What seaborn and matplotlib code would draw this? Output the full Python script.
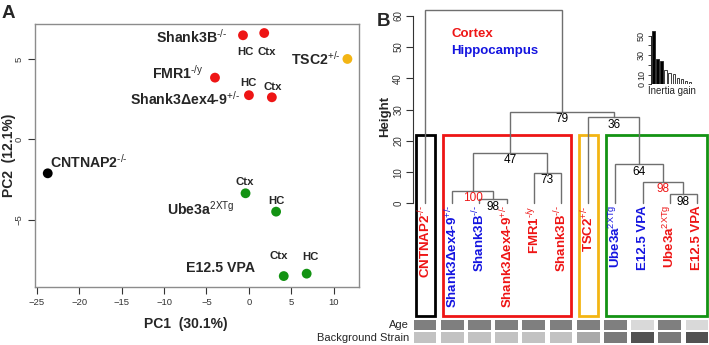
import matplotlib
matplotlib.use("Agg")
import matplotlib.pyplot as plt
from matplotlib.patches import Rectangle
import pandas as pd
import seaborn as sns

# ---- Panel A: PCA scores
pca_group = ["CNTNAP2", "Shank3B", "Shank3B", "FMR1", "Shank3dex", "Shank3dex",
             "TSC2", "Ube3a", "Ube3a", "VPA", "VPA"]
pca_tissue = ["", "HC", "Ctx", "", "HC", "Ctx", "", "Ctx", "HC", "Ctx", "HC"]
pca_cluster = ["c1", "c2", "c2", "c2", "c2", "c2", "c3", "c4", "c4", "c4", "c4"]
pc1 = [-23.7, -0.7, 1.8, -4.0, 0.0, 2.7, 11.6, -0.4, 3.2, 4.1, 6.8]
pc2 = [-2.1, 6.47, 6.61, 3.84, 2.75, 2.62, 5.0, -3.34, -4.48, -8.48, -8.33]

H = "\u2010"  # plain hyphen, kept out of mathtext's minus conversion
group_text = {
    "CNTNAP2": r"CNTNAP2$^{\mathrm{%s/%s}}$" % (H, H),
    "Shank3B": r"Shank3B$^{\mathrm{%s/%s}}$" % (H, H),
    "FMR1": r"FMR1$^{\mathrm{%s/y}}$" % H,
    "Shank3dex": r"Shank3Δex4-9$^{\mathrm{+/%s}}$" % H,
    "TSC2": r"TSC2$^{\mathrm{+/%s}}$" % H,
    "Ube3a": r"Ube3a$^{\mathrm{2XTg}}$",
    "VPA": "E12.5 VPA",
}

# ---- Panel B: hierarchical clustering (leaf order left to right)
leaf_group = ["CNTNAP2", "Shank3dex", "Shank3B", "Shank3dex", "FMR1", "Shank3B",
              "TSC2", "Ube3a", "VPA", "Ube3a", "VPA"]
leaf_tissue = ["Ctx", "HC", "HC", "Ctx", "Ctx", "Ctx", "Ctx", "HC", "HC", "Ctx", "Ctx"]
leaf_cluster = ["c1", "c2", "c2", "c2", "c2", "c2", "c3", "c4", "c4", "c4", "c4"]
# merges: node ids 0-10 are leaves, 11+ are merges in this order
merge_left = [2, 1, 4, 12, 9, 8, 7, 6, 14, 0]
merge_right = [3, 11, 5, 13, 10, 15, 16, 17, 18, 19]
merge_height = [1.3, 4.1, 9.8, 16.2, 2.9, 7.0, 12.5, 27.5, 29.3, 61.8]
merge_support = ["98", "100", "73", "47", "98", "98", "64", "36", "79", ""]
merge_support_red = [False, True, False, False, False, True, False, False, False, False]

age_shade = ["#7f7f7f"] * 8 + ["#d9d9d9", "#7f7f7f", "#d9d9d9"]
strain_shade = ["#c2c2c2"] * 6 + ["#a9a9a9", "#7a7a7a", "#525252", "#7a7a7a", "#525252"]

inertia_gain = [55, 26, 24.3, 14.7, 12, 10.3, 6.8, 5.1, 3.4, 2.4]

cluster_colours = {"c1": "black", "c2": "#ee1515", "c3": "#f3b514", "c4": "#139313"}
tissue_colours = {"Ctx": "#ee1515", "HC": "#1414e0"}

sns.set_style("ticks")
plt.rcParams["font.family"] = ["Liberation Sans", "DejaVu Sans"]
plt.rcParams["mathtext.fontset"] = "custom"
plt.rcParams["mathtext.rm"] = "Liberation Sans"
plt.rcParams["mathtext.bf"] = "Liberation Sans:bold"

fig = plt.figure(figsize=(7.09, 3.45), dpi=100)

# ---------------- Panel A ----------------
axA = fig.add_axes([35 / 709, 1 - 286.7 / 345, 324.3 / 709, 262.7 / 345])
df = pd.DataFrame({"pc1": pc1, "pc2": pc2, "cluster": pca_cluster})
sns.scatterplot(data=df, x="pc1", y="pc2", hue="cluster", palette=cluster_colours,
                s=50, edgecolor="none", legend=False, ax=axA)
axA.set_xlim(-25.2, 13.0)
axA.set_ylim(-9.14, 7.17)
axA.set_xticks(range(-25, 11, 5))
axA.set_yticks([-5, 0, 5])
axA.tick_params(labelsize=6.8, colors="#333333", length=5, width=0.8, pad=3)
for lab in axA.get_yticklabels():
    lab.set_rotation(90)
    lab.set_va("center")
for sp in axA.spines.values():
    sp.set_color("#8c8c8c")
    sp.set_linewidth(1)
axA.set_xlabel("")
axA.set_ylabel("")

# group names (layout positions in data units)
group_pos = [("Shank3B", -2.47, 6.39, "right"), ("TSC2", 10.82, 5.0, "right"),
             ("FMR1", -5.29, 4.15, "right"), ("Shank3dex", -1.06, 2.56, "right"),
             ("CNTNAP2", -23.38, -1.38, "left"), ("Ube3a", -1.73, -4.27, "right"),
             ("VPA", 0.74, -7.96, "right")]
for g, x, y, ha in group_pos:
    axA.text(x, y, group_text[g], ha=ha, va="center", fontsize=10.2, fontweight="bold")
# tissue tags (layout positions in data units)
tissue_pos = [None, (-0.47, 5.45), (2.08, 5.45), None, (0.0, 3.49), (2.79, 3.24),
              None, (-0.44, -2.62), (3.26, -3.82), (3.56, -7.24), (7.29, -7.32)]
for t, p in zip(pca_tissue, tissue_pos):
    if t:
        axA.text(p[0], p[1], t, ha="center", va="center", fontsize=8.2,
                 fontweight="bold")

fig.text(186 / 709, 1 - 324 / 345, "PC1  (30.1%)", ha="center", va="center",
         fontsize=10, fontweight="bold")
fig.text(9 / 709, 1 - 155 / 345, "PC2  (12.1%)", ha="center", va="center",
         fontsize=10, fontweight="bold", rotation=90)
fig.text(8 / 709, 1 - 14 / 345, "A", ha="center", va="center", fontsize=13.5,
         fontweight="bold")
fig.text(383 / 709, 1 - 22 / 345, "B", ha="center", va="center", fontsize=13.5,
         fontweight="bold")

# ---------------- Panel B ----------------
axB = fig.add_axes([413 / 709, 0, 296 / 709, 1])
axB.set_xlim(-0.441, 10.441)
axB.set_ylim(-45.2, 65.0)
for s in ["top", "right", "bottom"]:
    axB.spines[s].set_visible(False)
axB.spines["left"].set_bounds(0, 60)
axB.spines["left"].set_color("#333333")
axB.spines["left"].set_linewidth(0.8)
axB.set_xticks([])
axB.set_yticks(range(0, 61, 10))
axB.tick_params(axis="y", labelsize=7, length=5, width=0.8, colors="#333333", pad=2)
for lab in axB.get_yticklabels():
    lab.set_rotation(90)
    lab.set_va("center")
axB.text(-1.47, 27.7, "Height", rotation=90, ha="center", va="center",
         fontsize=9.5, fontweight="bold", clip_on=False)
axB.set_facecolor("none")

node_x = {i: float(i) for i in range(len(leaf_group))}
node_h = {i: 0.0 for i in range(len(leaf_group))}
line_col = "#6f6f6f"
for k, (a, b, h) in enumerate(zip(merge_left, merge_right, merge_height)):
    nid = len(leaf_group) + k
    xa, xb = node_x[a], node_x[b]
    axB.plot([xa, xa, xb, xb], [node_h[a], h, h, node_h[b]], color=line_col, lw=1,
             solid_joinstyle="miter")
    node_x[nid] = (xa + xb) / 2
    node_h[nid] = h
    if merge_support[k]:
        axB.annotate(merge_support[k], (node_x[nid], h), xytext=(0, -1),
                     textcoords="offset points", ha="center", va="top", fontsize=8.5,
                     color="#ee1515" if merge_support_red[k] else "black")

for i, g in enumerate(leaf_group):
    axB.text(i, -0.5, group_text[g], rotation=90, ha="center", va="top",
             fontsize=9.5, fontweight="bold", color=tissue_colours[leaf_tissue[i]])

# cluster boxes
for c, col in cluster_colours.items():
    idx = [i for i, cc in enumerate(leaf_cluster) if cc == c]
    x0, x1 = min(idx) - 0.34, max(idx) + 0.35
    axB.add_patch(Rectangle((x0, -35.8), x1 - x0, 57.8, fill=False, edgecolor=col,
                            lw=2.0, joinstyle="miter"))

# age / background strain strips
xs = list(range(len(leaf_group)))
axB.bar(xs, [3.2] * len(xs), bottom=-40.4, width=0.84, color=age_shade, lw=0)
axB.bar(xs, [3.5] * len(xs), bottom=-44.7, width=0.84, color=strain_shade, lw=0)
axB.text(-0.59, -38.8, "Age", ha="right", va="center", fontsize=8, clip_on=False)
axB.text(-0.59, -42.95, "Background Strain", ha="right", va="center", fontsize=8,
         clip_on=False)

axB.text(0.96, 54.1, "Cortex", ha="left", va="center", fontsize=9.5,
         fontweight="bold", color="#ee1515")
axB.text(0.96, 48.8, "Hippocampus", ha="left", va="center", fontsize=9.5,
         fontweight="bold", color="#1414e0")

# inertia gain inset
axI = fig.add_axes([651 / 709, 1 - 84.3 / 345, 42 / 709, 56.3 / 345])
gain_df = pd.DataFrame({"k": [str(i) for i in range(1, 11)], "gain": inertia_gain})
bar_fill = {str(i): ("black" if i <= 3 else "white") for i in range(1, 11)}
sns.barplot(data=gain_df, x="k", y="gain", hue="k", palette=bar_fill, legend=False,
            width=0.62, edgecolor="#222222", linewidth=0.6, ax=axI)
axI.set_xlim(-0.6, 9.7)
axI.set_ylim(0, 58)
axI.set_facecolor("none")
for s in ["top", "right", "bottom"]:
    axI.spines[s].set_visible(False)
axI.spines["left"].set_bounds(0, 50)
axI.spines["left"].set_linewidth(0.7)
axI.set_xticks([])
axI.set_yticks([0, 10, 20, 30, 40, 50])
axI.set_yticklabels(["0", "10", "", "30", "", "50"])
axI.tick_params(axis="y", labelsize=6.5, length=2.5, width=0.6, pad=1)
for lab in axI.get_yticklabels():
    lab.set_rotation(90)
    lab.set_va("center")
axI.set_ylabel("")
axI.set_xlabel("Inertia gain", fontsize=7, labelpad=1)

fig.savefig("out.png", dpi=100)
